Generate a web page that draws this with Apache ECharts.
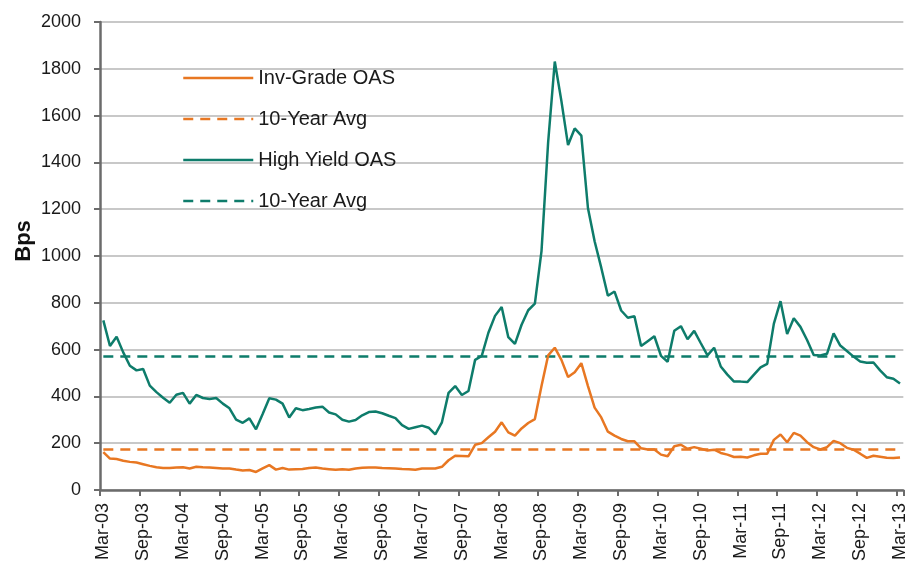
<!DOCTYPE html>
<html>
<head>
<meta charset="utf-8">
<script src="https://cdn.jsdelivr.net/npm/echarts@6/dist/echarts.min.js"></script>
<style>
html,body{margin:0;padding:0;background:#fff;}
#chart{width:909px;height:564px;}
</style>
</head>
<body>
<div id="chart"></div>
<script>
// Month labels Mar-03 .. Mar-13 (monthly)
const monthNames = ['Jan','Feb','Mar','Apr','May','Jun','Jul','Aug','Sep','Oct','Nov','Dec'];
const categories = [];
for (let i = 0; i <= 120; i++) {
  const mi = (2 + i) % 12;
  const yr = 3 + Math.floor((2 + i) / 12);
  categories.push(monthNames[mi] + '-' + String(yr).padStart(2, '0'));
}

const yTicks = [0, 200, 400, 600, 800, 1000, 1200, 1400, 1600, 1800, 2000];

const invGradeOAS = [
  162,134,132,125,120,117,110,103,97,94,
  94,96,97,92,99,97,96,94,92,92,
  87,83,85,77,92,106,87,94,87,89,
  90,94,96,92,89,86,89,86,92,95,
  96,96,94,93,92,90,89,86,92,92,
  92,99,127,146,145,144,193,200,225,249,
  289,246,232,263,286,303,444,575,608,556,
  483,503,542,444,352,310,249,232,218,208,
  208,178,173,173,151,144,187,193,176,183,
  176,169,172,158,151,141,142,139,148,155,
  155,214,237,204,244,232,204,183,173,183,
  210,200,180,172,155,137,146,142,138,137,
  139
];

const highYieldOAS = [
  725,615,655,588,531,511,517,446,418,394,
  373,407,415,369,406,393,389,393,369,349,
  301,287,306,259,325,392,386,369,310,349,
  341,346,352,356,331,323,300,292,299,319,
  333,335,328,317,307,277,261,268,275,266,
  238,289,415,444,406,423,556,573,672,744,
  782,653,624,706,768,796,1021,1486,1831,1662,
  1474,1545,1514,1204,1063,950,830,848,767,736,
  742,615,636,657,573,548,680,700,644,680,
  627,575,608,528,493,463,463,461,493,524,
  539,711,807,666,734,697,641,577,575,582,
  669,617,594,570,549,544,545,511,482,475,
  455
];

const invGradeAvg = 173;
const highYieldAvg = 570;

const invGradeAvgLine = categories.map(() => invGradeAvg);
const highYieldAvgLine = categories.map(() => highYieldAvg);

const ORANGE = '#E87722';
const TEAL = '#0E7C6B';
const FONT = "'Liberation Sans Narrow','Arial Narrow','Liberation Sans',Arial,sans-serif";

const chart = echarts.init(document.getElementById('chart'), null, {renderer: 'canvas'});
chart.setOption({
  animation: false,
  backgroundColor: '#fff',
  grid: {left: 100, right: 3, top: 22, bottom: 69, containLabel: false},
  legend: {
    orient: 'vertical',
    left: 177,
    top: 63,
    itemWidth: 70,
    itemHeight: 14,
    itemGap: 21,
    itemStyle: {opacity: 0},
    lineStyle: {width: 2.5},
    data: ['Inv-Grade OAS', '10-Year Avg (IG)', 'High Yield OAS', '10-Year Avg (HY)'],
    formatter: function (name) { return name.replace(/ \((IG|HY)\)$/, ''); },
    textStyle: {fontSize: 20, color: '#1a1a1a', fontFamily: FONT},
    selectedMode: false
  },
  xAxis: {
    type: 'category',
    data: categories,
    boundaryGap: true,
    axisLine: {lineStyle: {color: '#6b6b6b', width: 2.5}},
    axisTick: {show: true, interval: 5, length: 6, lineStyle: {color: '#6b6b6b', width: 2}},
    axisLabel: {interval: 5, rotate: 90, fontSize: 18, color: '#1a1a1a', fontFamily: FONT, margin: 13},
    splitLine: {show: false}
  },
  yAxis: {
    type: 'value',
    min: yTicks[0],
    max: yTicks[yTicks.length - 1],
    interval: yTicks[1] - yTicks[0],
    name: 'Bps',
    nameLocation: 'middle',
    nameGap: 65,
    nameMoveOverlap: false,
    nameTextStyle: {fontSize: 22, fontWeight: 'bold', color: '#111', fontFamily: FONT, padding: [0, 0, 0, 30]},
    axisLine: {show: true, lineStyle: {color: '#6b6b6b', width: 2.5}},
    axisTick: {show: true, length: 6, lineStyle: {color: '#6b6b6b', width: 2}},
    axisLabel: {fontSize: 18, color: '#1a1a1a', fontFamily: FONT, margin: 19,
      formatter: function (v) { return String(v); }},
    splitLine: {show: true, lineStyle: {color: '#C8C8C8', width: 2}}
  },
  series: [
    {
      name: '10-Year Avg (HY)', type: 'line', data: highYieldAvgLine, symbol: 'none',
      lineStyle: {color: TEAL, width: 2.5, type: [10, 7]}, itemStyle: {color: TEAL}, z: 2
    },
    {
      name: 'High Yield OAS', type: 'line', data: highYieldOAS, symbol: 'none',
      lineStyle: {color: TEAL, width: 2.5}, itemStyle: {color: TEAL}, z: 3
    },
    {
      name: '10-Year Avg (IG)', type: 'line', data: invGradeAvgLine, symbol: 'none',
      lineStyle: {color: ORANGE, width: 2.5, type: [10, 7]}, itemStyle: {color: ORANGE}, z: 4
    },
    {
      name: 'Inv-Grade OAS', type: 'line', data: invGradeOAS, symbol: 'none',
      lineStyle: {color: ORANGE, width: 2.5}, itemStyle: {color: ORANGE}, z: 5
    }
  ]
});
</script>
</body>
</html>
